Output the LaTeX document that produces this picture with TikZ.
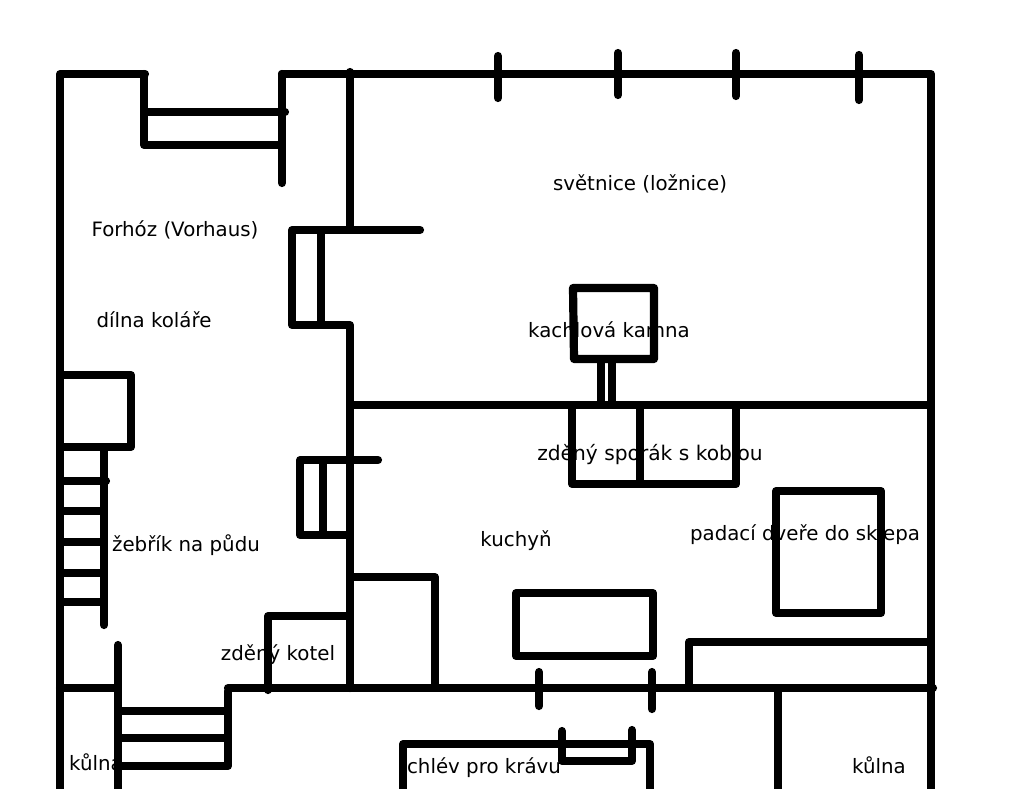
\documentclass[tikz,border=0pt]{standalone}
\usepackage{fontspec}
\setmainfont{DejaVu Sans}
\tikzset{wall/.style={line width=8.2pt,line cap=round,line join=round,draw=black},
lbl/.style={font=\fontsize{19.8}{24}\selectfont,text=black,inner sep=0pt,anchor=center}}
\begin{document}
\begin{tikzpicture}[x=1pt,y=-1pt]
\useasboundingbox[fill=white] (0,0) rectangle (1024,788);
\node[lbl] (a) at (640,184) {světnice (ložnice)};
\node[lbl] (b) at (175,230) {Forhóz (Vorhaus)};
\node[lbl] (c) at (154,320) {dílna koláře};
\node[lbl] (d) at (609,330) {kachlová kamna};
\node[lbl,font=\fontsize{20.2}{24}\selectfont] (e) at (650,455) {zděný sporák s koblou};
\node[lbl] (f) at (516,541) {kuchyň};
\node[lbl] (g) at (805,535) {padací dveře do sklepa};
\node[lbl] (h) at (186,545) {žebřík na půdu};
\node[lbl] (i) at (278,655) {zděný kotel};
\node[lbl] (j) at (96,762) {kůlna};
\node[lbl] (k) at (484,768) {chlév pro krávu};
\node[lbl] (l) at (879,765) {kůlna};
\begin{scope}
\clip (0,0) rectangle (1025,788);
% outer
\draw[wall] (60,795)--(60,74)--(145,74);
\draw[wall] (282,74)--(931,74)--(931,690);
\draw[wall] (931,690)--(931,795);
% top ticks
\draw[wall] (498,56)--(498,98);
\draw[wall] (618,53)--(618,95);
\draw[wall] (736,53)--(736,96);
\draw[wall] (859,55)--(859,100);
% top-left window
\draw[wall] (144,74)--(144,145)--(279,145);
\draw[wall] (147,112)--(285,112);
\draw[wall] (282,74)--(282,183);
% main partition
\draw[wall] (350,72)--(350,230)--(420,230);
\draw[wall] (350,230)--(292,230)--(292,325)--(350,325)--(350,688);
\draw[wall] (321,233)--(321,322);
% horizontal room divider
\draw[wall] (353,405)--(928,405);
% stove
\draw[wall] (573,288)--(654,288)--(654,359)--(574,359)--cycle;
\draw[wall] (601,362)--(601,402);
\draw[wall] (612,362)--(612,402);
% kitchen range
\draw[wall] (572,408)--(572,484)--(736,484)--(736,408);
\draw[wall] (640,408)--(640,481);
% left box & ladder
\draw[wall] (63,375)--(131,375)--(131,447)--(63,447);
\draw[wall] (104,450)--(104,625);
\draw[wall] (63,481)--(106,481);
\draw[wall] (63,511)--(101,511);
\draw[wall] (63,542)--(101,542);
\draw[wall] (63,573)--(101,573);
\draw[wall] (63,602)--(101,602);
% small stairs
\draw[wall] (378,460)--(300,460)--(300,535)--(347,535);
\draw[wall] (323,463)--(323,532);
% boxes
\draw[wall] (353,577)--(435,577)--(435,685);
\draw[wall] (347,616)--(268,616)--(268,690);
\draw[wall] (516,593)--(653,593)--(653,656)--(516,656)--cycle;
\draw[wall] (776,491)--(881,491)--(881,613)--(776,613)--cycle;
\draw[wall] (689,685)--(689,642)--(928,642);
% lower wall
\draw[wall] (60,688)--(115,688);
\draw[wall] (228,688)--(933,688);
\draw[wall] (118,645)--(118,795);
\draw[wall] (121,711)--(228,711)--(228,691);
\draw[wall] (121,738)--(225,738);
\draw[wall] (121,766)--(228,766)--(228,711);
\draw[wall] (539,672)--(539,706);
\draw[wall] (652,672)--(652,709);
% bottom
\draw[wall] (403,795)--(403,744)--(650,744)--(650,795);
\draw[wall] (562,731)--(562,761)--(632,761)--(632,730);
\draw[wall] (778,691)--(778,795);
\end{scope}
\end{tikzpicture}
\end{document}
